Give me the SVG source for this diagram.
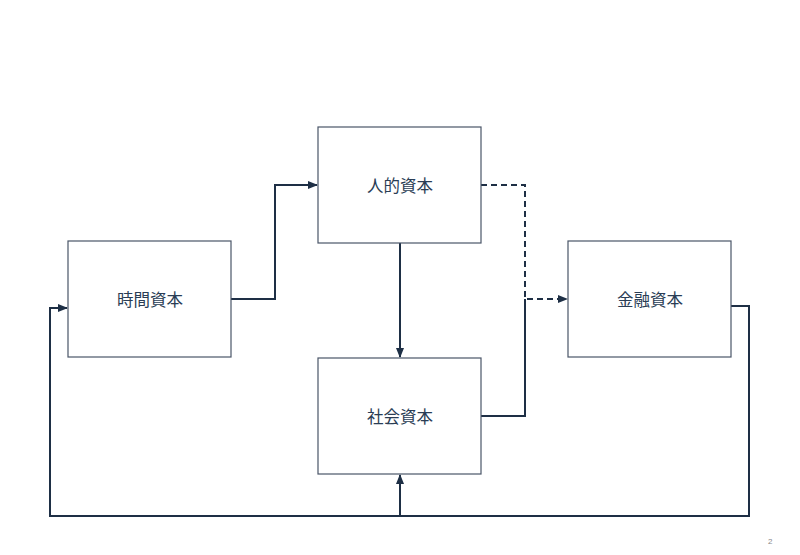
<svg xmlns="http://www.w3.org/2000/svg" width="800" height="555" viewBox="0 0 800 555">
<style>
.box{fill:#fff;stroke:#4a5568;stroke-width:1.2}
.lbl{font-family:"Noto Sans CJK JP","Noto Sans CJK SC",sans-serif;font-size:16.5px;fill:#2a3d55;text-anchor:middle;dominant-baseline:central}
.c{fill:none;stroke:#1e2f45;stroke-width:2}
.d{stroke-dasharray:6,4}
</style>
<defs>
<marker id="ah" viewBox="0 0 10 10" refX="9" refY="5" markerWidth="5" markerHeight="5" orient="auto-start-reverse">
<path d="M0,1 L10,5 L0,9 z" fill="#1e2f45"/>
</marker>
</defs>
<rect width="800" height="555" fill="#fff"/>
<g id="connectors">
<path class="c" d="M231,299 H275 V185 H317" marker-end="url(#ah)"/>
<path class="c" d="M400,243 V357" marker-end="url(#ah)"/>
<path class="c d" d="M481,185 H525 V299 H567" marker-end="url(#ah)"/>
<path class="c" d="M481,416 H525 V299"/>
<path class="c" d="M731,306 H749 V516 H50 V308 H67" marker-end="url(#ah)"/>
<path class="c" d="M400,516 V475" marker-end="url(#ah)"/>
</g>
<g id="jinteki">
<rect class="box" x="318" y="127" width="163" height="116"/>
<text class="lbl" x="400" y="185">人的資本</text>
</g>
<g id="jikan">
<rect class="box" x="68" y="241" width="163" height="116"/>
<text class="lbl" x="150" y="299">時間資本</text>
</g>
<g id="kinyu">
<rect class="box" x="568" y="241" width="163" height="116"/>
<text class="lbl" x="650" y="299">金融資本</text>
</g>
<g id="shakai">
<rect class="box" x="318" y="358" width="163" height="116"/>
<text class="lbl" x="400" y="416">社会資本</text>
</g>
<text x="768" y="544" font-family="Liberation Sans,sans-serif" font-size="8" fill="#888">2</text>
</svg>
